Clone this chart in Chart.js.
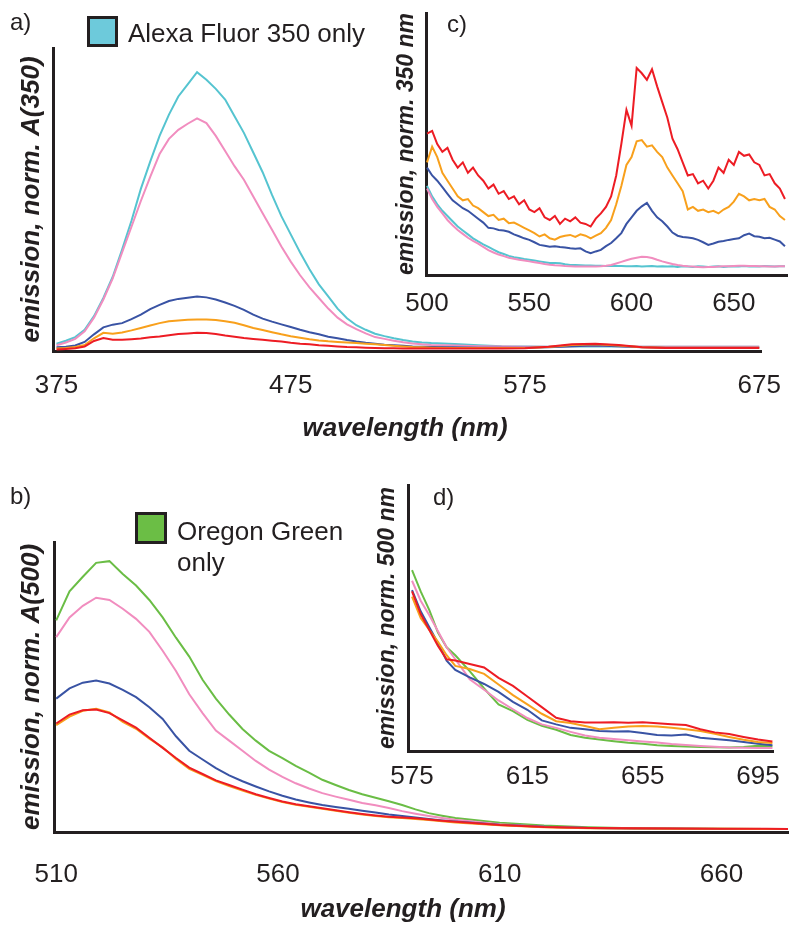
<!DOCTYPE html>
<html>
<head>
<meta charset="utf-8">
<title>Emission spectra</title>
<script src="https://cdn.jsdelivr.net/npm/chart.js@4.4.0/dist/chart.umd.min.js"></script>
<style>
  body { margin: 0; background: #fff; font-family: "Liberation Sans", Arial, sans-serif; color: #231f20; }
  #page { position: relative; width: 800px; height: 933px; overflow: hidden; }
  canvas { position: absolute; }
  .lbl { position: absolute; font-size: 24px; line-height: 1; white-space: nowrap; }
  .legend-text { position: absolute; font-size: 26px; line-height: 1; white-space: nowrap; }
  .swatch { position: absolute; box-sizing: border-box; border: 3px solid #231f20; }
  .xtitle { position: absolute; width: 260px; text-align: center; font-size: 26px; line-height: 1;
            font-weight: bold; font-style: italic; white-space: nowrap; }
</style>
</head>
<body>
<div id="page">
  <canvas id="chartA" width="800" height="450" style="left:0;top:0"></canvas>
  <canvas id="chartC" width="420" height="330" style="left:380px;top:0"></canvas>
  <canvas id="chartB" width="800" height="463" style="left:0;top:470px"></canvas>
  <canvas id="chartD" width="440" height="330" style="left:360px;top:470px"></canvas>

  <div class="lbl" style="left:10px;top:10px">a)</div>
  <div class="lbl" style="left:447px;top:12px">c)</div>
  <div class="lbl" style="left:10px;top:484px">b)</div>
  <div class="lbl" style="left:433px;top:485px">d)</div>

  <div class="swatch" style="left:87px;top:16px;width:31px;height:31px;background:#6dcadb"></div>
  <div class="legend-text" style="left:128px;top:20px">Alexa Fluor 350 only</div>
  <div class="swatch" style="left:135px;top:512px;width:32px;height:32px;background:#6bbe45"></div>
  <div class="legend-text" style="left:177px;top:518px">Oregon Green</div>
  <div class="legend-text" style="left:177px;top:549px">only</div>

  <div class="xtitle" style="left:275px;top:414px">wavelength (nm)</div>
  <div class="xtitle" style="left:273px;top:895px">wavelength (nm)</div>
</div>

<script>
// ---- Panel a: excitation at 350 nm ----
const waveA = [375,379,383,387,391,395,399,403,407,411,415,419,423,427,431,435,439,443,447,451,
  455,459,463,467,471,475,479,483,487,491,495,499,503,507,511,515,519,523,527,531,535,
  545,555,565,575,585,595,605,615,625,635,645,655,665,675];
const cyanA = [.024,.034,.046,.07,.115,.175,.245,.335,.43,.535,.625,.71,.78,.84,.88,.92,.895,.865,.83,.775,
  .72,.655,.59,.515,.445,.385,.325,.27,.22,.18,.14,.108,.085,.07,.057,.049,.042,.036,.031,.028,.026,
  .023,.019,.016,.015,.014,.015,.016,.015,.014,.014,.014,.014,.014,.014];
const pinkA = [.019,.028,.04,.065,.11,.17,.24,.325,.41,.495,.575,.65,.70,.73,.75,.768,.752,.71,.66,.61,
  .565,.51,.455,.40,.345,.295,.25,.21,.175,.14,.11,.088,.072,.058,.046,.04,.034,.029,.025,.022,.02,
  .018,.016,.015,.014,.014,.016,.018,.016,.014,.014,.014,.014,.014,.014];
const blueA = [.012,.014,.018,.03,.055,.078,.087,.092,.105,.12,.138,.152,.165,.172,.176,.18,.177,.17,.16,.149,
  .136,.12,.107,.097,.088,.079,.07,.062,.055,.047,.042,.036,.031,.027,.024,.021,.019,.017,.015,.014,.013,
  .012,.011,.011,.011,.012,.016,.018,.016,.012,.011,.011,.011,.011,.011];
const orangeA = [.008,.01,.013,.02,.042,.06,.057,.061,.068,.076,.084,.092,.098,.101,.103,.104,.104,.102,.098,.093,
  .085,.076,.069,.062,.055,.049,.044,.039,.035,.032,.03,.028,.026,.024,.022,.02,.017,.015,.013,.012,.011,
  .01,.01,.01,.01,.013,.02,.022,.018,.012,.011,.011,.011,.011,.011];
const redA = [.005,.007,.009,.015,.033,.043,.037,.037,.039,.041,.045,.048,.052,.056,.058,.06,.059,.056,.051,.047,
  .043,.04,.037,.034,.031,.027,.024,.022,.019,.017,.015,.013,.012,.011,.01,.009,.009,.008,.008,.008,.008,
  .008,.008,.008,.009,.014,.022,.024,.02,.012,.01,.01,.01,.01,.01];
const ticksA = [375, 475, 575, 675];

// ---- Panel c: inset, 500-675 nm at 350 nm excitation ----
const waveC = [500,502.5,505,507.5,510,512.5,515,517.5,520,522.5,525,527.5,530,532.5,535,537.5,540,542.5,545,547.5,
  550,552.5,555,557.5,560,562.5,565,567.5,570,572.5,575,577.5,580,582.5,585,587.5,590,592.5,595,597.5,
  600,602.5,605,607.5,610,612.5,615,617.5,620,622.5,625,627.5,630,632.5,635,637.5,640,642.5,645,647.5,
  650,652.5,655,657.5,660,662.5,665,667.5,670,672.5,675];
const redC = [.54,.55,.50,.47,.485,.44,.41,.43,.39,.41,.38,.36,.33,.345,.31,.32,.29,.30,.27,.285,
  .25,.24,.255,.22,.21,.225,.195,.215,.205,.22,.20,.195,.185,.215,.235,.26,.30,.38,.50,.63,
  .57,.79,.77,.745,.785,.72,.66,.60,.52,.48,.43,.38,.385,.35,.36,.33,.36,.41,.39,.44,
  .42,.47,.455,.46,.43,.42,.38,.385,.35,.33,.29];
const orangeC = [.43,.49,.45,.39,.36,.33,.30,.285,.29,.265,.255,.24,.225,.23,.21,.215,.198,.20,.19,.18,
  .17,.16,.147,.155,.14,.135,.145,.15,.153,.145,.155,.15,.14,.15,.16,.18,.21,.27,.34,.42,
  .45,.51,.515,.49,.495,.47,.45,.41,.38,.35,.32,.25,.26,.245,.25,.24,.245,.235,.25,.26,
  .28,.31,.30,.285,.29,.285,.29,.26,.25,.225,.21];
const blueC = [.41,.38,.36,.335,.31,.285,.27,.255,.245,.23,.215,.20,.18,.178,.172,.17,.165,.155,.148,.14,
  .134,.125,.115,.112,.108,.11,.107,.105,.102,.10,.102,.09,.083,.09,.096,.11,.122,.14,.16,.195,
  .22,.245,.262,.275,.245,.22,.205,.185,.162,.15,.145,.143,.14,.134,.125,.115,.12,.127,.13,.134,
  .137,.14,.152,.158,.148,.146,.14,.142,.135,.128,.11];
const cyanC = [.34,.30,.27,.245,.225,.205,.185,.17,.155,.14,.128,.117,.107,.097,.087,.08,.073,.068,.065,.061,
  .058,.055,.052,.049,.046,.046,.045,.041,.038,.038,.037,.036,.036,.035,.035,.034,.034,.034,.034,.033,
  .033,.034,.032,.033,.034,.032,.033,.032,.033,.031,.033,.032,.031,.033,.032,.031,.032,.033,.031,.032,
  .033,.032,.034,.032,.033,.032,.034,.033,.032,.033,.033];
const pinkC = [.33,.29,.26,.235,.21,.19,.172,.157,.142,.13,.12,.107,.095,.086,.078,.072,.066,.062,.058,.055,
  .052,.049,.046,.042,.039,.037,.036,.034,.033,.032,.032,.032,.032,.032,.033,.035,.038,.044,.05,.056,
  .062,.066,.07,.069,.065,.058,.052,.047,.042,.038,.035,.033,.032,.031,.03,.031,.031,.032,.033,.033,
  .034,.035,.035,.034,.034,.033,.033,.032,.032,.033,.033];
const ticksC = [500, 550, 600, 650];

// ---- Panel b: excitation at 500 nm ----
const waveB = [510,513,516,519,522,525,528,531,534,537,540,543,546,549,552,555,558,561,564,567,
  570,573,576,579,582,585,588,591,594,597,600,610,620,630,640,650,660,670,675];
const greenB = [.73,.83,.88,.928,.934,.89,.85,.80,.74,.67,.605,.525,.46,.405,.355,.315,.28,.255,.228,.205,
  .18,.162,.145,.13,.118,.106,.093,.078,.065,.056,.048,.032,.022,.016,.013,.012,.011,.01,.01];
const pinkB = [.672,.74,.78,.808,.80,.77,.735,.69,.625,.555,.475,.41,.35,.315,.28,.245,.215,.19,.168,.15,
  .134,.122,.111,.10,.092,.083,.072,.063,.055,.048,.042,.027,.018,.014,.012,.011,.01,.01,.01];
const blueB = [.46,.495,.515,.522,.512,.49,.465,.43,.39,.33,.28,.25,.22,.195,.175,.157,.14,.125,.112,.102,
  .093,.086,.08,.073,.067,.06,.055,.05,.045,.04,.036,.025,.018,.014,.012,.011,.01,.01,.01];
const orangeB = [.368,.398,.418,.425,.412,.38,.356,.322,.292,.252,.218,.197,.176,.158,.143,.128,.115,.103,.094,.087,
  .08,.073,.066,.06,.055,.051,.048,.045,.041,.037,.033,.023,.016,.013,.012,.011,.011,.01,.01];
const redB = [.374,.405,.42,.422,.41,.385,.36,.325,.29,.255,.222,.2,.178,.162,.146,.13,.117,.105,.096,.089,
  .082,.075,.068,.062,.057,.053,.05,.047,.043,.039,.035,.024,.017,.014,.013,.012,.011,.011,.01];
const ticksB = [510, 560, 610, 660];

// ---- Panel d: inset, 575-700 nm at 500 nm excitation ----
const waveD = [575,578,581,584,587,590,595,600,605,610,615,620,625,630,635,640,645,650,655,660,
  665,670,675,680,685,690,695,700];
const greenD = [.68,.60,.53,.445,.39,.36,.30,.235,.175,.15,.117,.095,.08,.06,.05,.043,.037,.031,.027,.022,
  .019,.017,.015,.014,.013,.015,.02,.018];
const pinkD = [.64,.565,.51,.45,.39,.345,.27,.23,.19,.157,.124,.10,.087,.072,.058,.05,.045,.04,.036,.032,
  .026,.023,.019,.016,.013,.012,.011,.011];
const blueD = [.605,.525,.465,.405,.34,.305,.277,.252,.222,.185,.155,.115,.10,.087,.082,.075,.073,.074,.068,.06,
  .058,.062,.05,.045,.04,.034,.027,.022];
const orangeD = [.58,.50,.455,.41,.36,.32,.308,.29,.25,.21,.175,.14,.112,.105,.094,.082,.087,.092,.094,.092,
  .087,.082,.075,.065,.053,.042,.034,.03];
const redD = [.60,.515,.455,.395,.345,.34,.327,.314,.275,.245,.205,.165,.125,.112,.107,.107,.108,.106,.108,.104,
  .101,.098,.082,.07,.064,.053,.043,.036];
const ticksD = [575, 615, 655, 695];

const COLORS = {
  red: '#ed1c24',
  orange: '#f8a01c',
  blue: '#3953a4',
  pink: '#f18dbf',
  cyan: '#55c4d0',
  green: '#6abd45'
};
const FONT = '"Liberation Sans", Arial, sans-serif';
const INK = '#231f20';

// Builds one panel; the first series is drawn on top
function makeChart(id, waves, series, opt) {
  const datasets = series.map(s => ({
    data: waves.map((w, i) => ({ x: w, y: s.values[i] })),
    borderColor: s.color,
    borderWidth: 2,
    pointRadius: 0,
    tension: 0,
    fill: false
  }));

  return new Chart(document.getElementById(id), {
    type: 'line',
    data: { datasets: datasets },
    options: {
      responsive: false,
      animation: false,
      events: [],
      layout: { autoPadding: false, padding: opt.padding },
      plugins: {
        legend: { display: false },
        tooltip: { enabled: false }
      },
      scales: {
        x: {
          type: 'linear',
          min: opt.xMin,
          max: opt.xMax,
          afterBuildTicks: scale => { scale.ticks = opt.ticks.map(v => ({ value: v })); },
          afterFit: scale => { scale.height = opt.xHeight; },
          grid: { display: false, drawTicks: false },
          border: { display: true, color: INK, width: 3 },
          ticks: {
            padding: opt.tickPad,
            color: INK,
            autoSkip: false,
            maxRotation: 0,
            font: { family: FONT, size: 26 },
            callback: v => String(v)
          }
        },
        y: {
          min: 0,
          max: 1,
          afterFit: scale => { scale.width = opt.yWidth; },
          grid: { display: false, drawTicks: false },
          border: { display: true, color: INK, width: 3 },
          ticks: { display: false },
          title: {
            display: true,
            text: opt.yTitle,
            color: INK,
            padding: { top: opt.yTitlePad, bottom: 0 },
            font: { family: FONT, size: opt.yTitleSize, weight: 'bold', style: 'italic' }
          }
        }
      }
    }
  });
}

makeChart('chartA', waveA, [
  { values: redA, color: COLORS.red },
  { values: orangeA, color: COLORS.orange },
  { values: blueA, color: COLORS.blue },
  { values: pinkA, color: COLORS.pink },
  { values: cyanA, color: COLORS.cyan }
], {
  padding: { top: 48, right: 35, left: 0, bottom: 0 },
  xMin: 373.5, xMax: 675.8, ticks: ticksA,
  xHeight: 99, yWidth: 53, tickPad: 19,
  yTitle: 'emission, norm. A(350)', yTitleSize: 26, yTitlePad: 16
});

makeChart('chartC', waveC, [
  { values: redC, color: COLORS.red },
  { values: orangeC, color: COLORS.orange },
  { values: blueC, color: COLORS.blue },
  { values: pinkC, color: COLORS.pink },
  { values: cyanC, color: COLORS.cyan }
], {
  padding: { top: 13, right: 13, left: 0, bottom: 0 },
  xMin: 499.5, xMax: 676, ticks: ticksC,
  xHeight: 55, yWidth: 46, tickPad: 13,
  yTitle: 'emission, norm. 350 nm', yTitleSize: 23, yTitlePad: 13
});

makeChart('chartB', waveB, [
  { values: redB, color: COLORS.red },
  { values: orangeB, color: COLORS.orange },
  { values: blueB, color: COLORS.blue },
  { values: pinkB, color: COLORS.pink },
  { values: greenB, color: COLORS.green }
], {
  padding: { top: 72, right: 12, left: 0, bottom: 0 },
  xMin: 509.5, xMax: 675, ticks: ticksB,
  xHeight: 101, yWidth: 54, tickPad: 27,
  yTitle: 'emission, norm. A(500)', yTitleSize: 26, yTitlePad: 16
});

makeChart('chartD', waveD, [
  { values: redD, color: COLORS.red },
  { values: orangeD, color: COLORS.orange },
  { values: blueD, color: COLORS.blue },
  { values: pinkD, color: COLORS.pink },
  { values: greenD, color: COLORS.green }
], {
  padding: { top: 15, right: 27, left: 0, bottom: 0 },
  xMin: 573.6, xMax: 700.2, ticks: ticksD,
  xHeight: 49, yWidth: 48, tickPad: 10,
  yTitle: 'emission, norm. 500 nm', yTitleSize: 23, yTitlePad: 14
});
</script>
</body>
</html>
